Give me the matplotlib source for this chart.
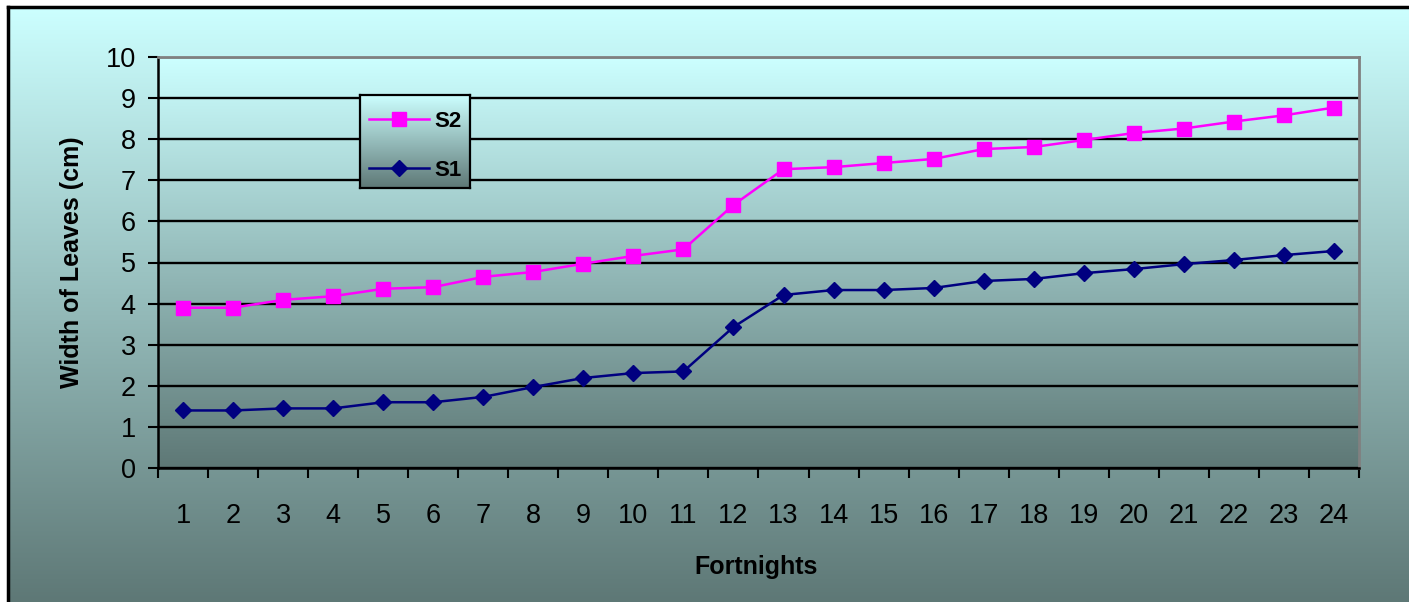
import matplotlib.pyplot as plt
import numpy as np
from matplotlib.colors import LinearSegmentedColormap
from matplotlib.lines import Line2D

plt.rcParams['font.family'] = ['Liberation Sans', 'DejaVu Sans']

fortnights = list(range(1, 25))
s1 = [1.4, 1.4, 1.45, 1.45, 1.6, 1.6, 1.73, 1.97, 2.19, 2.31, 2.35, 3.43,
      4.21, 4.33, 4.33, 4.38, 4.55, 4.6, 4.74, 4.84, 4.96, 5.06, 5.18, 5.28]
s2 = [3.9, 3.9, 4.09, 4.18, 4.36, 4.4, 4.65, 4.77, 4.97, 5.16, 5.32, 6.4,
      7.27, 7.32, 7.42, 7.52, 7.76, 7.81, 7.98, 8.15, 8.26, 8.43, 8.58, 8.77]
y_ticks = list(range(0, 11))

W, H = 1409, 602
fade = LinearSegmentedColormap.from_list('fade', [(204/255, 1, 1), (94/255, 120/255, 118/255)])
grad = np.linspace(0, 1, 256).reshape(-1, 1)

fig = plt.figure(figsize=(W / 100, H / 100), dpi=100, facecolor='white')

# outer chart area with its own gradient
bg = fig.add_axes([8 / W, 0, 1 - 8 / W, (H - 7) / H])
bg.imshow(grad, cmap=fade, aspect='auto', extent=[0, 1, 0, 1],
          transform=bg.transAxes, interpolation='bilinear')
bg.set_xticks([])
bg.set_yticks([])
for side in ['right', 'bottom']:
    bg.spines[side].set_visible(False)
for side in ['left', 'top']:
    bg.spines[side].set_linewidth(2.5)
    bg.spines[side].set_color('black')

# plot area
ax = fig.add_axes([158 / W, (H - 468) / H, (1359 - 158) / W, (468 - 57) / H])
ax.imshow(grad, cmap=fade, aspect='auto', extent=[0, 1, 0, 1],
          transform=ax.transAxes, zorder=0, interpolation='bilinear')
ax.set_xlim(0.5, 24.5)
ax.set_ylim(0, 10)
ax.set_axisbelow(True)
ax.yaxis.grid(True, color='black', linewidth=1.7)

ax.plot(fortnights, s2, color='#FF00FF', marker='s', markersize=9.5,
        linewidth=1.8, label='S2', zorder=3)
ax.plot(fortnights, s1, color='#000080', marker='D', markersize=8.5,
        linewidth=1.8, label='S1', zorder=3)

ax.set_yticks(y_ticks)
ax.set_xticks(fortnights)
ax.set_xticks(np.arange(0.5, 25, 1), minor=True)
ax.tick_params(axis='y', length=7, width=1.5, pad=9, labelsize=19.5)
ax.tick_params(axis='x', which='major', length=0, pad=25, labelsize=19.5)
ax.tick_params(axis='x', which='minor', length=7, width=1.5)

for side in ['left', 'bottom']:
    ax.spines[side].set_color('black')
    ax.spines[side].set_linewidth(1.8)
for side in ['top', 'right']:
    ax.spines[side].set_color('#808080')
    ax.spines[side].set_linewidth(2)

fig.text(756 / W, 1 - 567 / H, 'Fortnights', ha='center', va='center',
         fontsize=18, fontweight='bold')
fig.text(72 / W, 1 - 262 / H, 'Width of Leaves (cm)', ha='center', va='center',
         rotation=90, fontsize=18, fontweight='bold')

# legend box with gradient fill
lax = fig.add_axes([360 / W, 1 - 188 / H, 110 / W, 93 / H])
lax.imshow(grad, cmap=fade, aspect='auto', extent=[0, 1, 0, 1],
           transform=lax.transAxes, interpolation='bilinear')
lax.set_xticks([])
lax.set_yticks([])
for sp in lax.spines.values():
    sp.set_linewidth(1.6)
    sp.set_color('black')
handles = [
    Line2D([], [], color='#FF00FF', marker='s', markersize=9.5, linewidth=1.8),
    Line2D([], [], color='#000080', marker='D', markersize=8.5, linewidth=1.8),
]
lax.legend(handles, ['S2', 'S1'], loc='center', bbox_to_anchor=(0.5, 0.45),
           frameon=False, prop={'size': 16, 'weight': 'bold'}, handlelength=2.7,
           handletextpad=0.25, labelspacing=1.25, borderaxespad=0)

fig.savefig('out.png', dpi=100)
